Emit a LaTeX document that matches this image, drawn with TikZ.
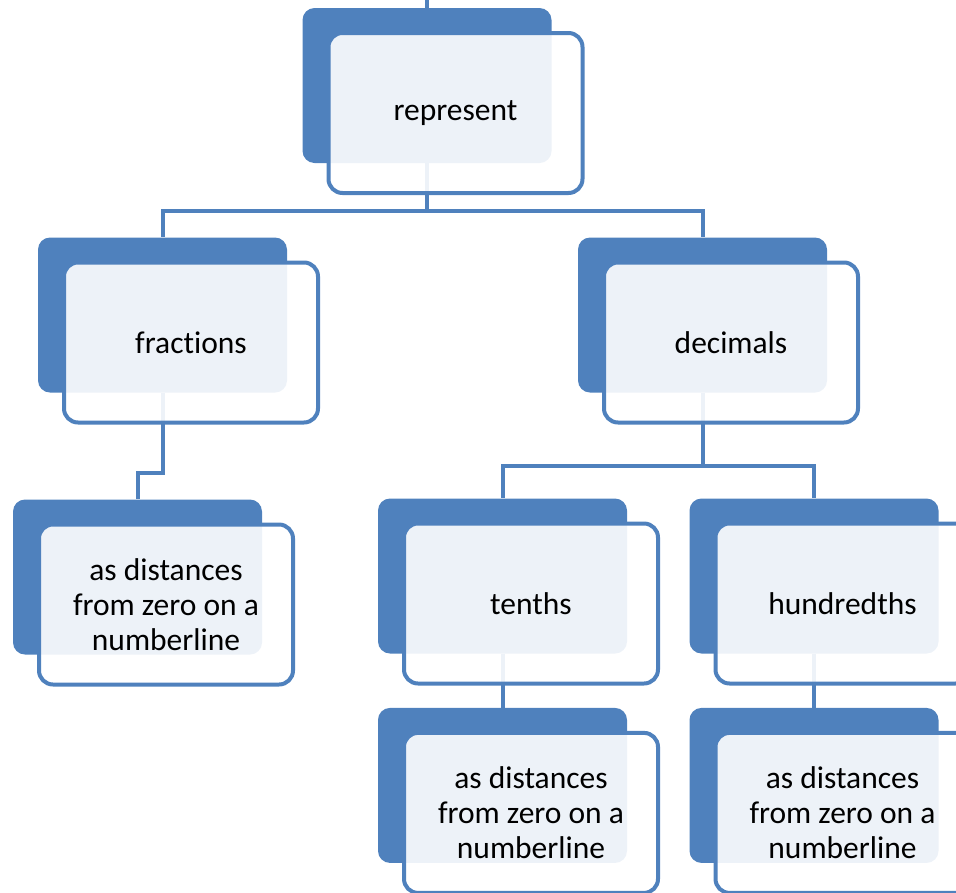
\documentclass[tikz,border=0pt]{standalone}
\usepackage{fontspec}
\setmainfont{Carlito}[Ligatures=CommonOff]
\usetikzlibrary{positioning}

\definecolor{accent}{RGB}{79,129,189}

\tikzset{
  backbox/.style={fill=accent, rounded corners=12pt, minimum width=249pt, minimum height=155pt},
  frontbox/.style={draw=accent, line width=4pt, fill=white, fill opacity=0.9, text opacity=1,
    rounded corners=14pt, minimum width=254pt, minimum height=160pt, align=center,
    font=\fontsize{31.5}{35}\selectfont},
  link/.style={draw=accent, line width=4pt}
}

\begin{document}
\begin{tikzpicture}[x=1pt, y=-1pt, node distance=54pt]
  \useasboundingbox (0,0) rectangle (956,892);
  \clip (0,0) rectangle (956,892);

  % back boxes
  \node[backbox] (root) at (427,85.5) {};
  \node[backbox] (frac) at (162.5,315) {};
  \node[backbox] (dec) at (702.5,315) {};
  \node[backbox] (fracnum) at (137.5,577) {};
  \node[backbox] (tenths) at (502.5,576) {};
  \node[backbox] (hund) at (814,576) {};
  \node[backbox] (tenthsnum) [below=of tenths] {};
  \node[backbox] (hundnum) [below=of hund] {};

  % connectors
  \coordinate (top) at (427,-10);
  \draw[link] (root.north) -- (top);
  \draw[link] (root.south) -- ++(0,48) -| (frac.north);
  \draw[link] (root.south) -- ++(0,48) -| (dec.north);
  \draw[link] (frac.south) -- ++(0,80) -| (fracnum.north);
  \draw[link] (dec.south) -- ++(0,73) -| (tenths.north);
  \draw[link] (dec.south) -- ++(0,73) -| (hund.north);
  \draw[link] (tenths.south) -- (tenthsnum.north);
  \draw[link] (hund.south) -- (hundnum.north);

  % front boxes
  \node[frontbox] (rootf) at ([shift={(28.5,27.5)}]root.center) {represent};
  \node[frontbox] (fracf) at ([shift={(28.5,27.5)}]frac.center) {fractions};
  \node[frontbox] (decf) at ([shift={(28.5,27.5)}]dec.center) {decimals};
  \node[frontbox] (fracnumf) at ([shift={(28.5,27.5)}]fracnum.center) {as distances\\from zero on a\\numberline};
  \node[frontbox] (tenthsf) at ([shift={(28.5,27.5)}]tenths.center) {tenths};
  \node[frontbox] (hundf) at ([shift={(28.5,27.5)}]hund.center) {hundredths};
  \node[frontbox] (tenthsnumf) at ([shift={(28.5,27.5)}]tenthsnum.center) {as distances\\from zero on a\\numberline};
  \node[frontbox] (hundnumf) at ([shift={(28.5,27.5)}]hundnum.center) {as distances\\from zero on a\\numberline};
\end{tikzpicture}
\end{document}
